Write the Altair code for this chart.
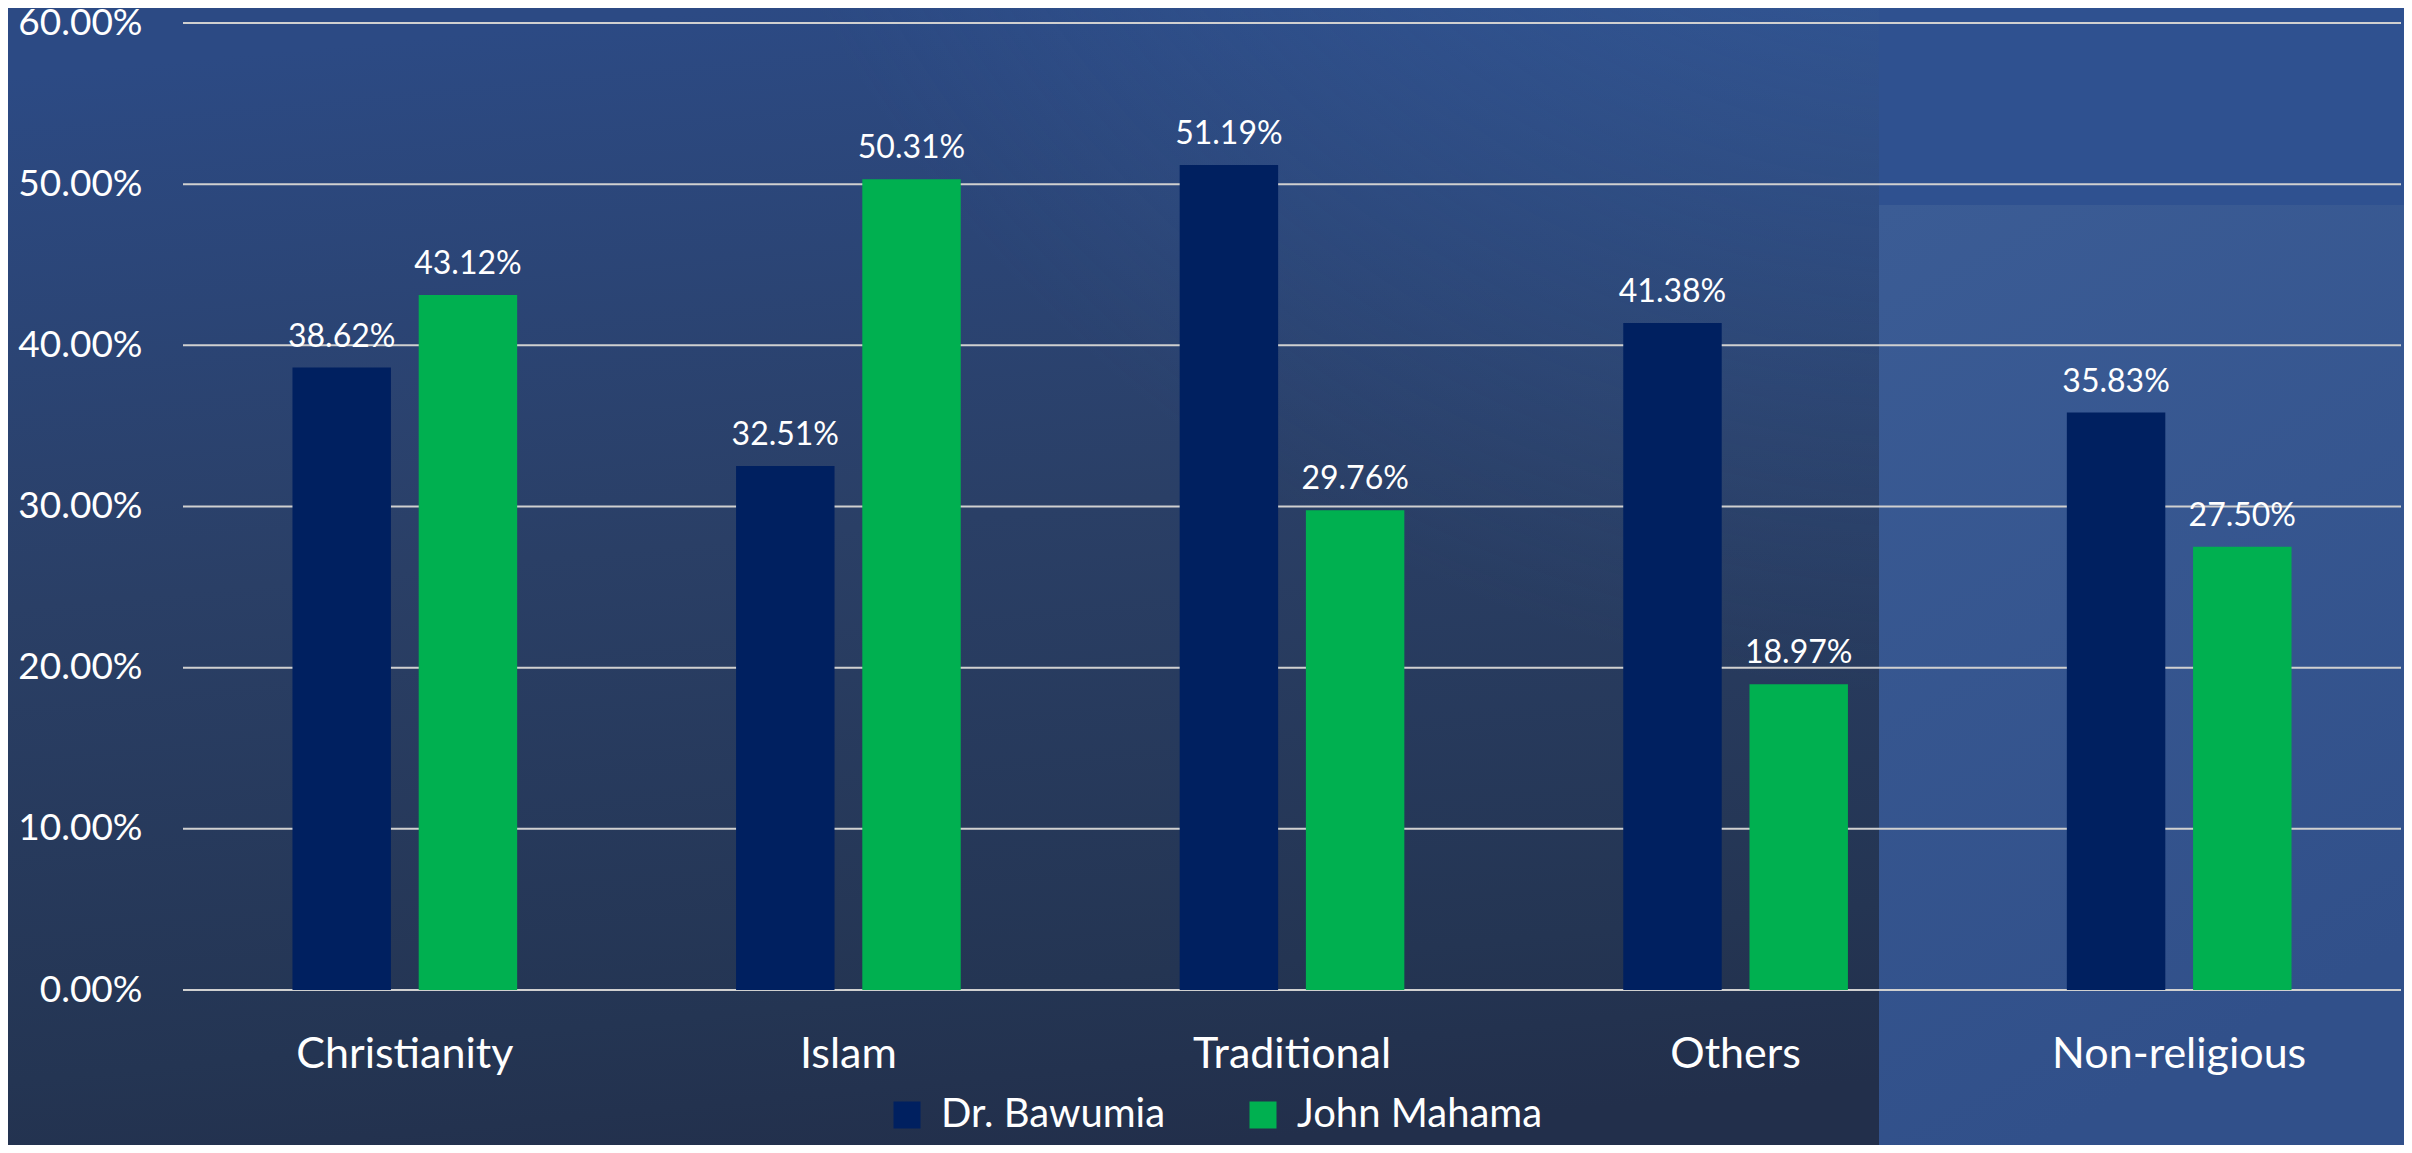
import altair as alt
import pandas as pd

categories = ["Christianity", "Islam", "Traditional", "Others", "Non-religious"]
series = ["Dr. Bawumia", "John Mahama"]
bawumia = [38.62, 32.51, 51.19, 41.38, 35.83]
mahama = [43.12, 50.31, 29.76, 18.97, 27.50]
colors = ["#002060", "#00B050"]
y_ticks = [0, 10, 20, 30, 40, 50, 60]

rows = []
for c, b, m in zip(categories, bawumia, mahama):
    rows.append({"category": c, "series": series[0], "value": b})
    rows.append({"category": c, "series": series[1], "value": m})
df = pd.DataFrame(rows)
ticks_df = pd.DataFrame({"value": y_ticks})

W, H = 2218, 967
PL, PT, PR, PB = 175, 15, 3, 155
FONT = "Lato"
PANEL_X = 1696
BAND_Y = 182

x = alt.X(
    "category:N",
    sort=categories,
    scale=alt.Scale(paddingInner=0.4935, paddingOuter=0.2468),
    axis=alt.Axis(
        title=None, labelAngle=0, labelFontSize=43, labelColor="white", labelFont=FONT,
        labelPadding=77, labelBaseline="alphabetic", labelLimit=600,
        domain=False, ticks=False, grid=False, zindex=2,
    ),
)
xo = alt.XOffset("series:N", sort=series, scale=alt.Scale(paddingInner=0.22, paddingOuter=0))
yscale = alt.Scale(domain=[0, 60], nice=False)


def y_axis():
    return alt.Axis(
        title=None, values=y_ticks, labelExpr="format(datum.value, '.2f') + '%'",
        grid=False, domain=False, ticks=False,
        labelPadding=41, labelFontSize=37, labelFont=FONT, labelColor="white", zindex=2,
    )


y = alt.Y("value:Q", scale=yscale, axis=y_axis())
color = alt.Color(
    "series:N",
    sort=series,
    scale=alt.Scale(domain=series, range=colors),
    legend=alt.Legend(
        title=None, orient="none", legendX=704, legendY=1072, direction="horizontal",
        symbolType="square", symbolSize=729, symbolStrokeWidth=0, symbolOpacity=1,
        labelFontSize=40, labelFont=FONT, labelColor="white", labelOffset=14,
        labelLimit=600, columnPadding=77, padding=0, zindex=2,
    ),
)

bg_src = pd.DataFrame({"k": [0]})
bg_left = alt.Chart(bg_src).mark_rect(
    color=alt.Gradient(
        gradient="linear",
        stops=[
            alt.GradientStop(color="#2c4a84", offset=0),
            alt.GradientStop(color="#2a3f66", offset=0.45),
            alt.GradientStop(color="#243553", offset=0.85),
            alt.GradientStop(color="#222f4b", offset=1),
        ],
        x1=0.3, y1=0, x2=0.5, y2=1,
    )
).encode(x=alt.value(-PL), x2=alt.value(W + PR), y=alt.value(-PT), y2=alt.value(H + PB))

bg_glow = alt.Chart(bg_src).mark_rect(
    color=alt.Gradient(
        gradient="radial",
        stops=[
            alt.GradientStop(color="rgba(58,104,176,0.75)", offset=0),
            alt.GradientStop(color="rgba(58,104,176,0.35)", offset=0.5),
            alt.GradientStop(color="rgba(58,104,176,0)", offset=1),
        ],
        x1=0.82, y1=0.0, r1=0, x2=0.82, y2=0.0, r2=0.55,
    )
).encode(x=alt.value(-PL), x2=alt.value(W + PR), y=alt.value(-PT), y2=alt.value(H + PB))

bg_right = alt.Chart(bg_src).mark_rect(
    color=alt.Gradient(
        gradient="linear",
        stops=[
            alt.GradientStop(color="#3b5c95", offset=0),
            alt.GradientStop(color="#31508a", offset=1),
        ],
        x1=0, y1=0, x2=0.3, y2=1,
    )
).encode(x=alt.value(PANEL_X), x2=alt.value(W + PR), y=alt.value(BAND_Y), y2=alt.value(H + PB))

bg_top = alt.Chart(bg_src).mark_rect(color="#2f5190").encode(
    x=alt.value(PANEL_X), x2=alt.value(W + PR), y=alt.value(-PT), y2=alt.value(BAND_Y)
)

grid = alt.Chart(ticks_df).mark_rule(color="#d0d0d0", strokeWidth=2).encode(
    y=alt.Y("value:Q", scale=yscale, axis=y_axis()),
    x=alt.value(0),
    x2=alt.value(W),
)

base = alt.Chart(df)
bars = base.mark_bar().encode(x=x, xOffset=xo, y=y, color=color)
labels = base.transform_calculate(
    label="format(datum.value, '.2f') + '%'"
).mark_text(baseline="alphabetic", dy=-21, fontSize=32, font=FONT, color="white").encode(
    x=x, xOffset=xo, y=y, text="label:N"
)

chart = alt.layer(bg_left, bg_glow, bg_right, bg_top, grid, bars, labels).properties(
    width=W, height=H,
    autosize=alt.AutoSizeParams(type="none"),
    padding={"left": PL, "top": PT, "right": PR, "bottom": PB},
    background="#2a4270",
).configure_view(stroke=None)

chart.save("out.html", embed_options={"renderer": "svg", "actions": False})
